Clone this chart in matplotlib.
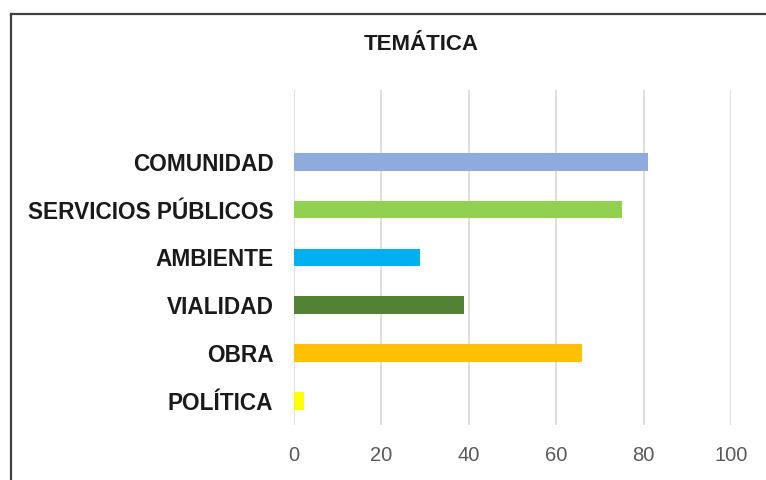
import matplotlib.pyplot as plt
from matplotlib.lines import Line2D

categorias = ['POLÍTICA', 'OBRA', 'VIALIDAD', 'AMBIENTE', 'SERVICIOS PÚBLICOS', 'COMUNIDAD']
valores = [2.4, 66, 39, 29, 75, 81]
colores = ['#ffff00', '#ffc000', '#548235', '#00b0f0', '#92d050', '#8faadc']
ticks_x = [0, 20, 40, 60, 80, 100]

plt.rcParams['font.family'] = ['Liberation Sans', 'DejaVu Sans']

fig = plt.figure(figsize=(7.66, 4.8), dpi=100)
ax = fig.add_axes([0.3832, 0.1146, 0.5711, 0.6979])

ax.barh(range(len(categorias)), valores, height=0.37, color=colores, zorder=3)

ax.set_xlim(0, 100)
ax.set_ylim(-0.5, 6.5)
ax.set_xticks(ticks_x)
ax.set_yticks(range(len(categorias)))
ax.set_yticklabels(categorias, fontsize=16.3, fontweight='bold', color='#1a1a1a')
ax.tick_params(axis='y', length=0, pad=14.5)
ax.tick_params(axis='x', length=0, pad=15, labelsize=14.5, labelcolor='#595959')
ax.grid(axis='x', color='#d9d9d9', linewidth=1.2, zorder=0)
for s in ax.spines.values():
    s.set_visible(False)

fig.text(421/766, 1 - 50/480, 'TEMÁTICA', ha='center', va='baseline',
         fontsize=16, fontweight='bold', color='#1a1a1a')

# marco del gráfico (solo se ven borde izquierdo y superior)
fig.add_artist(Line2D([10.5/766, 10.5/766], [0, 1 - 14/480], transform=fig.transFigure,
                      color='#404040', linewidth=1.6))
fig.add_artist(Line2D([10.5/766, 1], [1 - 14/480, 1 - 14/480], transform=fig.transFigure,
                      color='#404040', linewidth=1.6))

fig.savefig('out.png', dpi=100)
